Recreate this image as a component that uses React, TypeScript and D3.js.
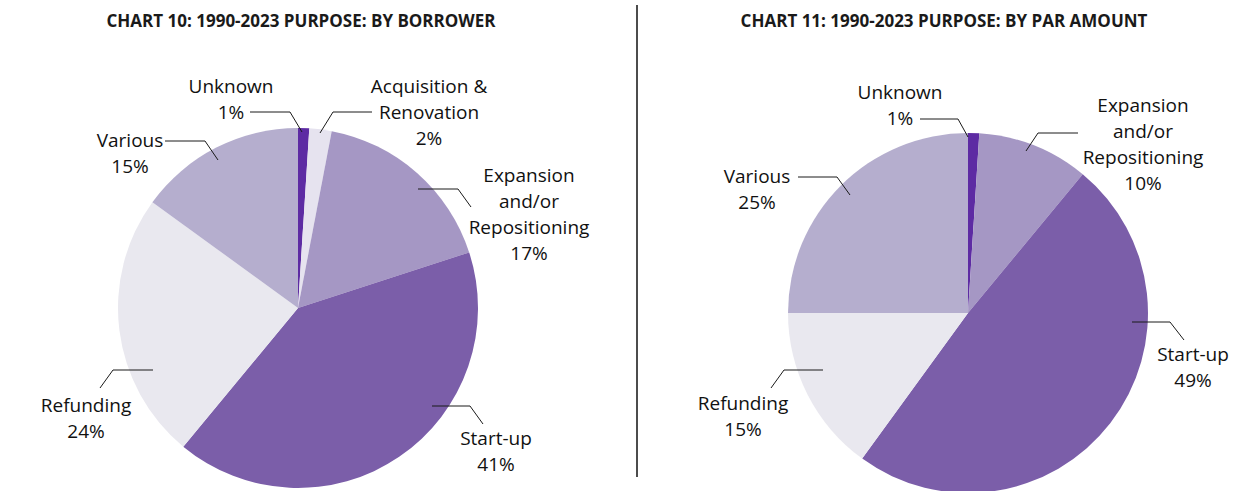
import React from "react";
import * as d3 from "d3";

// ---- Data ----
const borrowerCategories = ["Unknown", "Acquisition & Renovation", "Expansion and/or Repositioning", "Start-up", "Refunding", "Various"];
const borrowerValues = [1, 2, 17, 41, 24, 15];

const parCategories = ["Unknown", "Expansion and/or Repositioning", "Start-up", "Refunding", "Various"];
const parValues = [1, 10, 49, 15, 25];

const chartTitles = ["CHART 10: 1990-2023 PURPOSE: BY BORROWER", "CHART 11: 1990-2023 PURPOSE: BY PAR AMOUNT"];

// ---- Styles ----
const colors: Record<string, string> = {
  "Unknown": "#5d2ba3",
  "Acquisition & Renovation": "#e6e3ef",
  "Expansion and/or Repositioning": "#a597c4",
  "Start-up": "#7b5ea9",
  "Refunding": "#e9e8ef",
  "Various": "#b5aece",
};

// label text lines per category (label layout)
const labelLines: Record<string, string[]> = {
  "Unknown": ["Unknown"],
  "Acquisition & Renovation": ["Acquisition &", "Renovation"],
  "Expansion and/or Repositioning": ["Expansion", "and/or", "Repositioning"],
  "Start-up": ["Start-up"],
  "Refunding": ["Refunding"],
  "Various": ["Various"],
};

// Layout: label anchor (relative to pie center) and leader polyline
type Lay = { tx: number; ty: number; pts: [number, number][] };
const leftLayout: Record<string, Lay> = {
  "Unknown": { tx: -67, ty: -215, pts: [[-48, -196], [-8, -196], [4, -176]] },
  "Acquisition & Renovation": { tx: 131, ty: -215, pts: [[22, -175], [35, -196], [74, -196]] },
  "Expansion and/or Repositioning": { tx: 231, ty: -126, pts: [[120, -119], [160, -119], [173, -101]] },
  "Start-up": { tx: 198, ty: 137, pts: [[134, 98], [172, 98], [185, 116]] },
  "Refunding": { tx: -212, ty: 104, pts: [[-145, 62], [-185, 62], [-198, 80]] },
  "Various": { tx: -168, ty: -161, pts: [[-133, -167], [-93, -167], [-80, -148]] },
};
const rightLayout: Record<string, Lay> = {
  "Unknown": { tx: -68, ty: -214, pts: [[-48, -194], [-10, -194], [0, -176]] },
  "Expansion and/or Repositioning": { tx: 175, ty: -201, pts: [[58, -162], [70, -180], [110, -180]] },
  "Start-up": { tx: 225, ty: 48, pts: [[164, 9], [202, 9], [216, 27]] },
  "Refunding": { tx: -225, ty: 97, pts: [[-145, 57], [-184, 57], [-197, 75]] },
  "Various": { tx: -211, ty: -130, pts: [[-170, -136], [-131, -136], [-118, -118]] },
};

const W = 1258;
const H = 491;
const R = 180;
const FONT = "'Open Sans', 'Noto Sans', sans-serif";
const LABEL_SIZE = 19;
const LINE_H = 26;

type PieProps = {
  cx: number;
  cy: number;
  categories: string[];
  values: number[];
  layout: Record<string, Lay>;
};

function Pie({ cx, cy, categories, values, layout }: PieProps) {
  const data = categories.map((c, i) => ({ cat: c, value: values[i] }));
  const pie = d3.pie<{ cat: string; value: number }>().sort(null).value((d) => d.value);
  const arc = d3.arc<d3.PieArcDatum<{ cat: string; value: number }>>().innerRadius(0).outerRadius(R);
  const arcs = pie(data);
  const line = d3.line<[number, number]>();
  return (
    <g transform={`translate(${cx},${cy})`}>
      {arcs.map((a) => (
        <path key={a.data.cat} d={arc(a) || ""} fill={colors[a.data.cat]} />
      ))}
      {arcs.map((a) => {
        const lay = layout[a.data.cat];
        const lines = [...labelLines[a.data.cat], `${a.data.value}%`];
        return (
          <g key={"l" + a.data.cat}>
            <path d={line(lay.pts) || ""} fill="none" stroke="#1a1a1a" strokeWidth={1} />
            <text
              x={lay.tx}
              y={lay.ty}
              textAnchor="middle"
              fontFamily={FONT}
              fontSize={LABEL_SIZE}
              fill="#111"
            >
              {lines.map((t, i) => (
                <tspan key={i} x={lay.tx} y={lay.ty + i * LINE_H}>
                  {t}
                </tspan>
              ))}
            </text>
          </g>
        );
      })}
    </g>
  );
}

export default function App() {
  return (
    <svg
      width={W}
      height={H}
      style={{ position: "absolute", left: 0, top: 0, background: "#fff" }}
    >
      <rect width={W} height={H} fill="#fff" />
      <text x={301} y={27} textAnchor="middle" fontFamily={FONT} fontWeight={700} fontSize={17} fill="#1a1a1a">
        {chartTitles[0]}
      </text>
      <text x={944} y={27} textAnchor="middle" fontFamily={FONT} fontWeight={700} fontSize={17} fill="#1a1a1a">
        {chartTitles[1]}
      </text>
      <line x1={637} x2={637} y1={5} y2={477} stroke="#111" strokeWidth={1.5} />
      <Pie cx={298} cy={308} categories={borrowerCategories} values={borrowerValues} layout={leftLayout} />
      <Pie cx={968} cy={313} categories={parCategories} values={parValues} layout={rightLayout} />
    </svg>
  );
}
